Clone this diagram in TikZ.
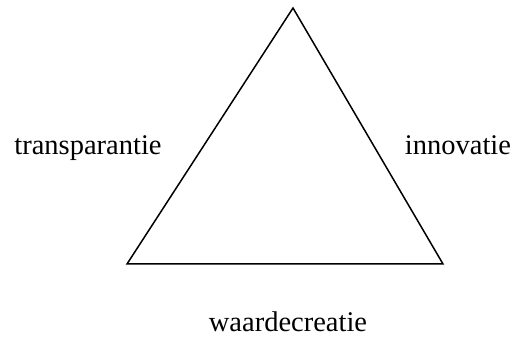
\documentclass[tikz,border=0pt]{standalone}
\usepackage{fontspec}
\setmainfont{Liberation Serif}
\begin{document}
\begin{tikzpicture}[x=1pt,y=1pt,
  lbl/.style={anchor=base,inner sep=0pt,font=\fontsize{28.5}{34}\selectfont},
  edge/.style={line width=1.5pt,line join=miter}]
\useasboundingbox (0,0) rectangle (516,339);
\coordinate (top) at (293,331);
\coordinate (bl) at (127,75);
\coordinate (br) at (443,75);
\draw[edge] (top) -- (bl) -- (br) -- cycle;
\node[lbl] (t) at (88,184) {transparantie};
\node[lbl] (i) at (458,184) {innovatie};
\node[lbl] (w) at (288,7) {waardecreatie};
\end{tikzpicture}
\end{document}
